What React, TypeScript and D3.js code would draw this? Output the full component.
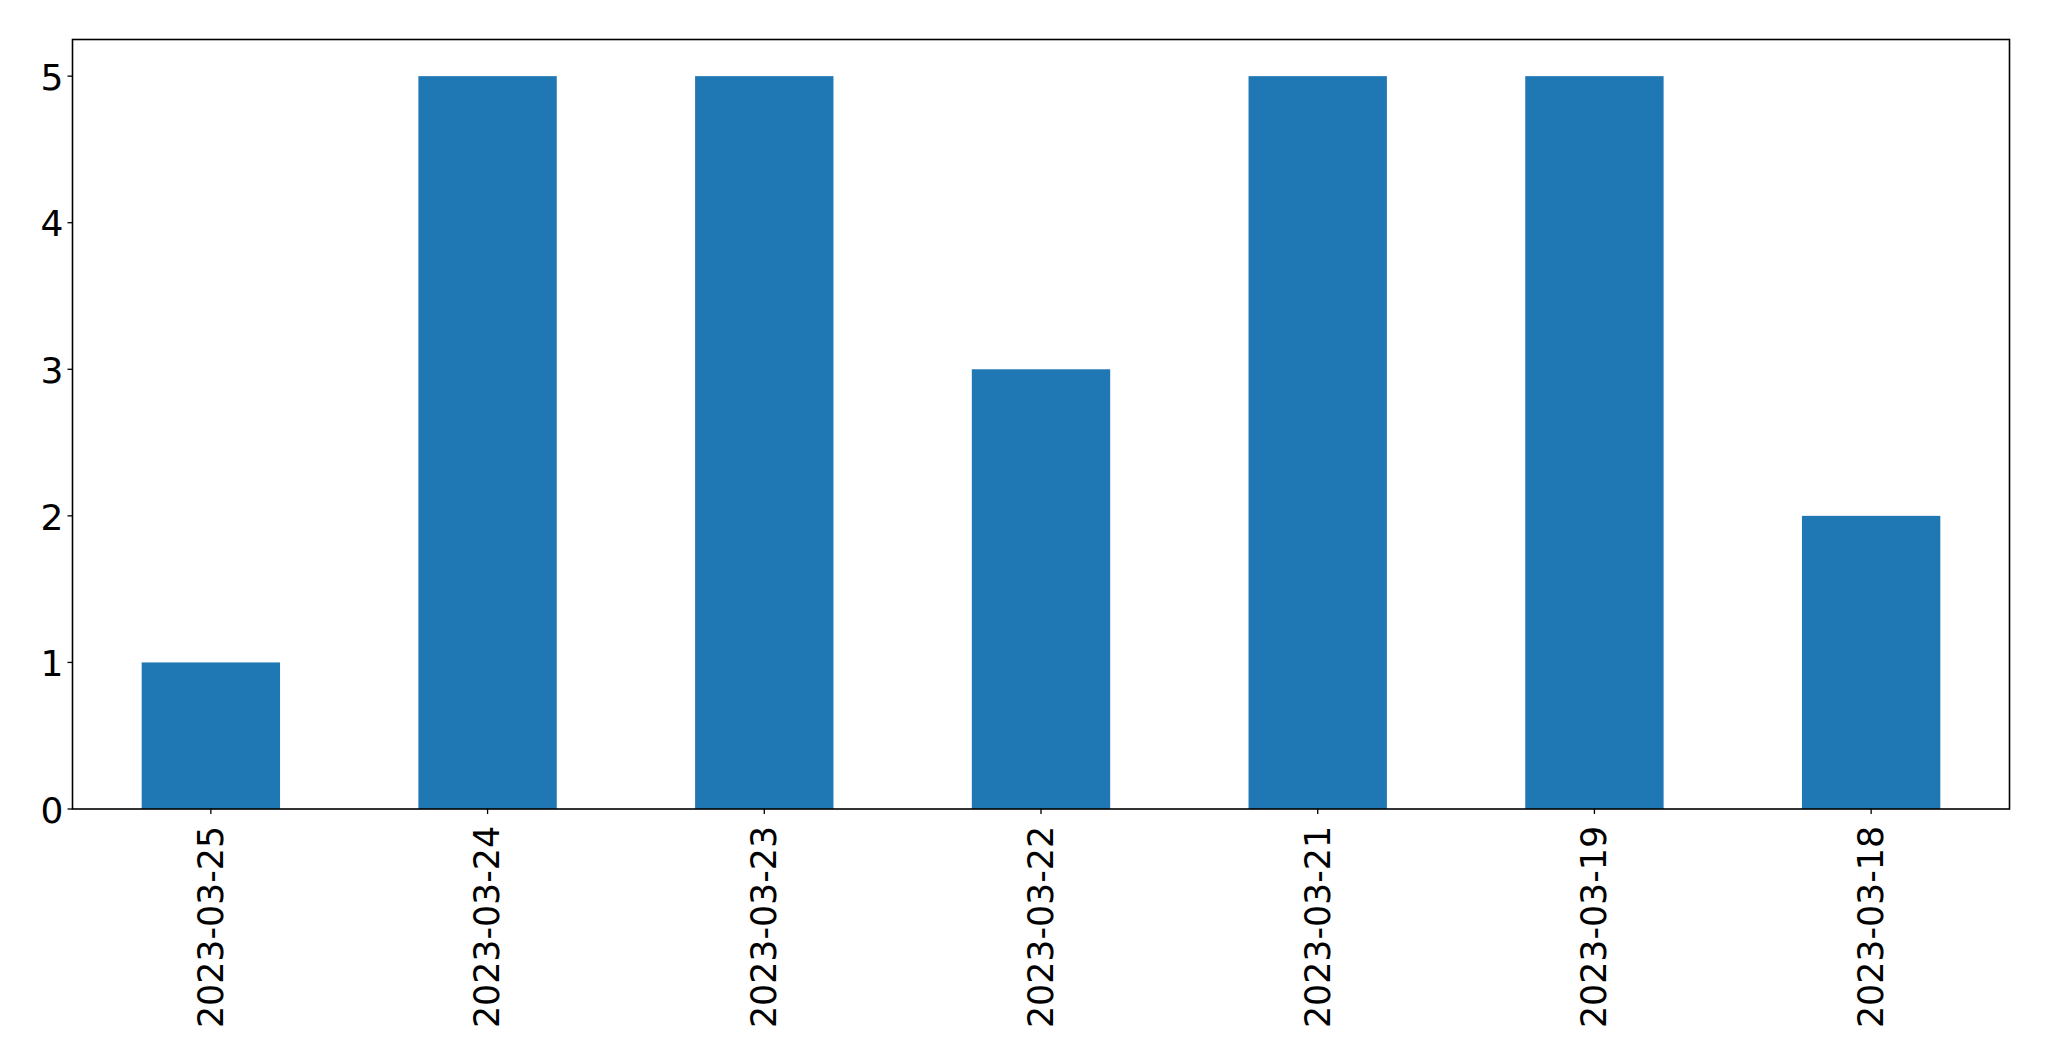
import React from "react";
import * as d3 from "d3";

const categories = ["2023-03-25", "2023-03-24", "2023-03-23", "2023-03-22", "2023-03-21", "2023-03-19", "2023-03-18"];
const values = [1, 5, 5, 3, 5, 5, 2];
const yTicks = [0, 1, 2, 3, 4, 5];

const W = 2049;
const H = 1061;
const M = { left: 72.5, right: 2009.5, top: 39.5, bottom: 809 };
const FONT = "DejaVu Sans";
const FS = 36;

export default function App() {
  const x = d3.scaleLinear().domain([-0.5, categories.length - 0.5]).range([M.left, M.right]);
  const y = d3.scaleLinear().domain([0, 5.25]).range([M.bottom, M.top]);
  const bw = x(0.25) - x(-0.25);
  return (
    <svg width={W} height={H} style={{ position: "absolute", left: 0, top: 0 }}>
      <rect x={0} y={0} width={W} height={H} fill="white" />
      {values.map((v, i) => (
        <rect key={i} x={x(i) - bw / 2} y={y(v)} width={bw} height={y(0) - y(v)} fill="#1f77b4" />
      ))}
      <rect x={M.left} y={M.top} width={M.right - M.left} height={M.bottom - M.top} fill="none" stroke="black" strokeWidth={1.6} />
      {yTicks.map((t) => (
        <g key={t}>
          <line x1={M.left - 5} x2={M.left} y1={y(t)} y2={y(t)} stroke="black" strokeWidth={1.3} />
          <text x={M.left - 9} y={y(t)} dy="0.38em" textAnchor="end" fontFamily={FONT} fontSize={FS} fill="black">{t}</text>
        </g>
      ))}
      {categories.map((c, i) => (
        <g key={c}>
          <line x1={x(i)} x2={x(i)} y1={M.bottom} y2={M.bottom + 5} stroke="black" strokeWidth={1.3} />
          <text transform={`translate(${x(i)},${M.bottom + 17}) rotate(-90)`} dy="0.33em" textAnchor="end" textLength={202} lengthAdjust="spacingAndGlyphs" fontFamily={FONT} fontSize={FS} fill="black">{c}</text>
        </g>
      ))}
    </svg>
  );
}
